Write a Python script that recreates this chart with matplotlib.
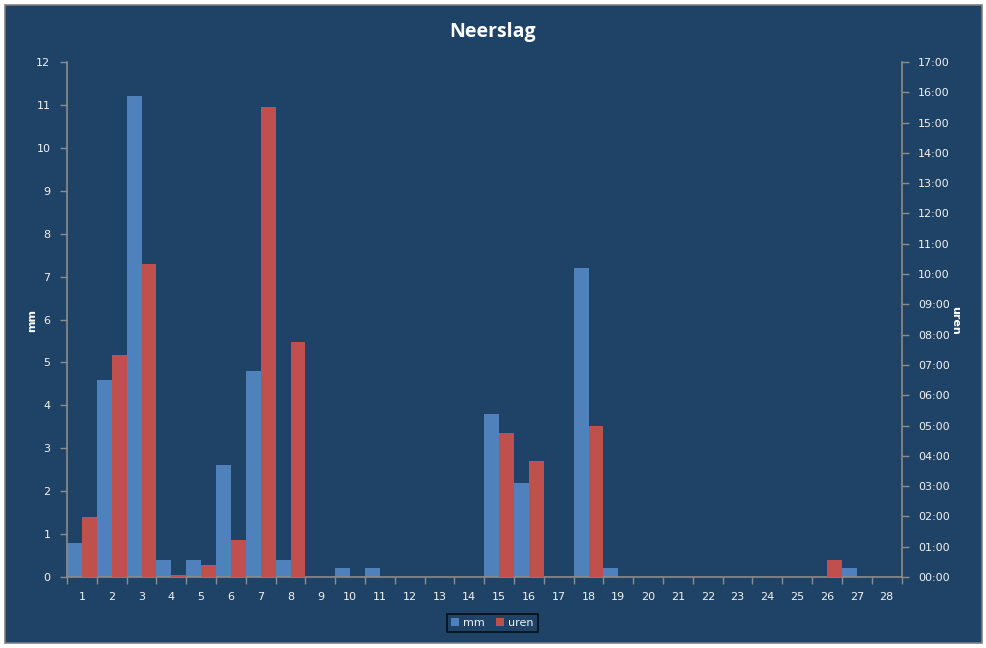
import matplotlib
matplotlib.use("Agg")
import matplotlib.pyplot as plt
import numpy as np
from matplotlib.patches import Rectangle
from matplotlib.ticker import FuncFormatter

days = np.arange(1, 29)
# neerslag in mm per dag
mm = np.array([0.8, 4.6, 11.2, 0.4, 0.4, 2.6, 4.8, 0.4, 0, 0.2, 0.2, 0, 0, 0,
               3.8, 2.2, 0, 7.2, 0.2, 0, 0, 0, 0, 0, 0, 0, 0.2, 0])
# duur in uren per dag
uren = np.array([1.98, 7.33, 10.33, 0.07, 0.4, 1.22, 15.5, 7.75, 0, 0, 0, 0, 0, 0,
                 4.75, 3.83, 0, 5.0, 0, 0, 0, 0, 0, 0, 0, 0.57, 0, 0])

bg = '#1F4366'
blue = '#4F81BD'
red = '#C0504D'
axc = '#8C8C8C'
txt = '#F2F2F2'

W, H = 987, 648
fig = plt.figure(figsize=(W / 100, H / 100), dpi=100, facecolor='white')
fig.patches.append(Rectangle((5 / W, 5 / H), 977 / W, 638 / H, transform=fig.transFigure,
                             facecolor=bg, edgecolor='#7F7F7F', linewidth=1.2, zorder=-10))

ax = fig.add_axes([67 / W, 71 / H, 834.5 / W, 515 / H])
ax.set_facecolor('none')
ax.bar(days - 0.5, mm, width=0.5, align='edge', color=blue, label='mm', zorder=2)
ax.set_xlim(0.5, 28.5)
ax.set_ylim(0, 12)
ax.set_yticks(range(0, 13))

ax2 = ax.twinx()
ax2.bar(days, uren, width=0.5, align='edge', color=red, label='uren', zorder=2)
ax2.set_ylim(0, 17)
ax2.set_yticks(range(0, 18))
ax2.yaxis.set_major_formatter(FuncFormatter(lambda v, p: '%02d:00' % v))

for a in (ax, ax2):
    for s in a.spines.values():
        s.set_visible(False)
ax.spines['left'].set_visible(True)
ax.spines['bottom'].set_visible(True)
ax2.spines['right'].set_visible(True)
for s in (ax.spines['left'], ax.spines['bottom'], ax2.spines['right']):
    s.set_color(axc)
    s.set_linewidth(1.2)

ax.set_xticks(days)
ax.set_xticks(np.arange(0.5, 29), minor=True)
ax.tick_params(axis='x', which='major', length=0, pad=11, labelsize=8, labelcolor=txt)
ax.tick_params(axis='x', which='minor', length=5, color=axc, width=1)
ax.tick_params(axis='y', length=5, color=axc, width=1, pad=7, labelsize=8, labelcolor=txt)
ax2.tick_params(axis='y', length=5, color=axc, width=1, pad=7, labelsize=8, labelcolor=txt)

fig.text(493 / W, 1 - 32 / H, 'Neerslag', ha='center', va='center', color='white',
         fontsize=14, fontweight='bold', family='Open Sans')
fig.text(32 / W, 1 - 320 / H, 'mm', ha='center', va='center', rotation=90,
         color='white', fontsize=8, fontweight='bold')
fig.text(955 / W, 1 - 320 / H, 'uren', ha='center', va='center', rotation=270,
         color='white', fontsize=8, fontweight='bold')

h1, l1 = ax.get_legend_handles_labels()
h2, l2 = ax2.get_legend_handles_labels()
leg = fig.legend(h1 + h2, l1 + l2, loc='center', bbox_to_anchor=(492.5 / W, 1 - 623 / H),
                 ncol=2, frameon=True, fontsize=8, handlelength=0.7, handleheight=0.7,
                 handletextpad=0.4, columnspacing=1.0, borderpad=0.4, fancybox=False)
leg.get_frame().set_facecolor(bg)
leg.get_frame().set_edgecolor('black')
leg.get_frame().set_linewidth(1.2)
for t in leg.get_texts():
    t.set_color(txt)

fig.savefig('out.png', dpi=100, facecolor='white')
